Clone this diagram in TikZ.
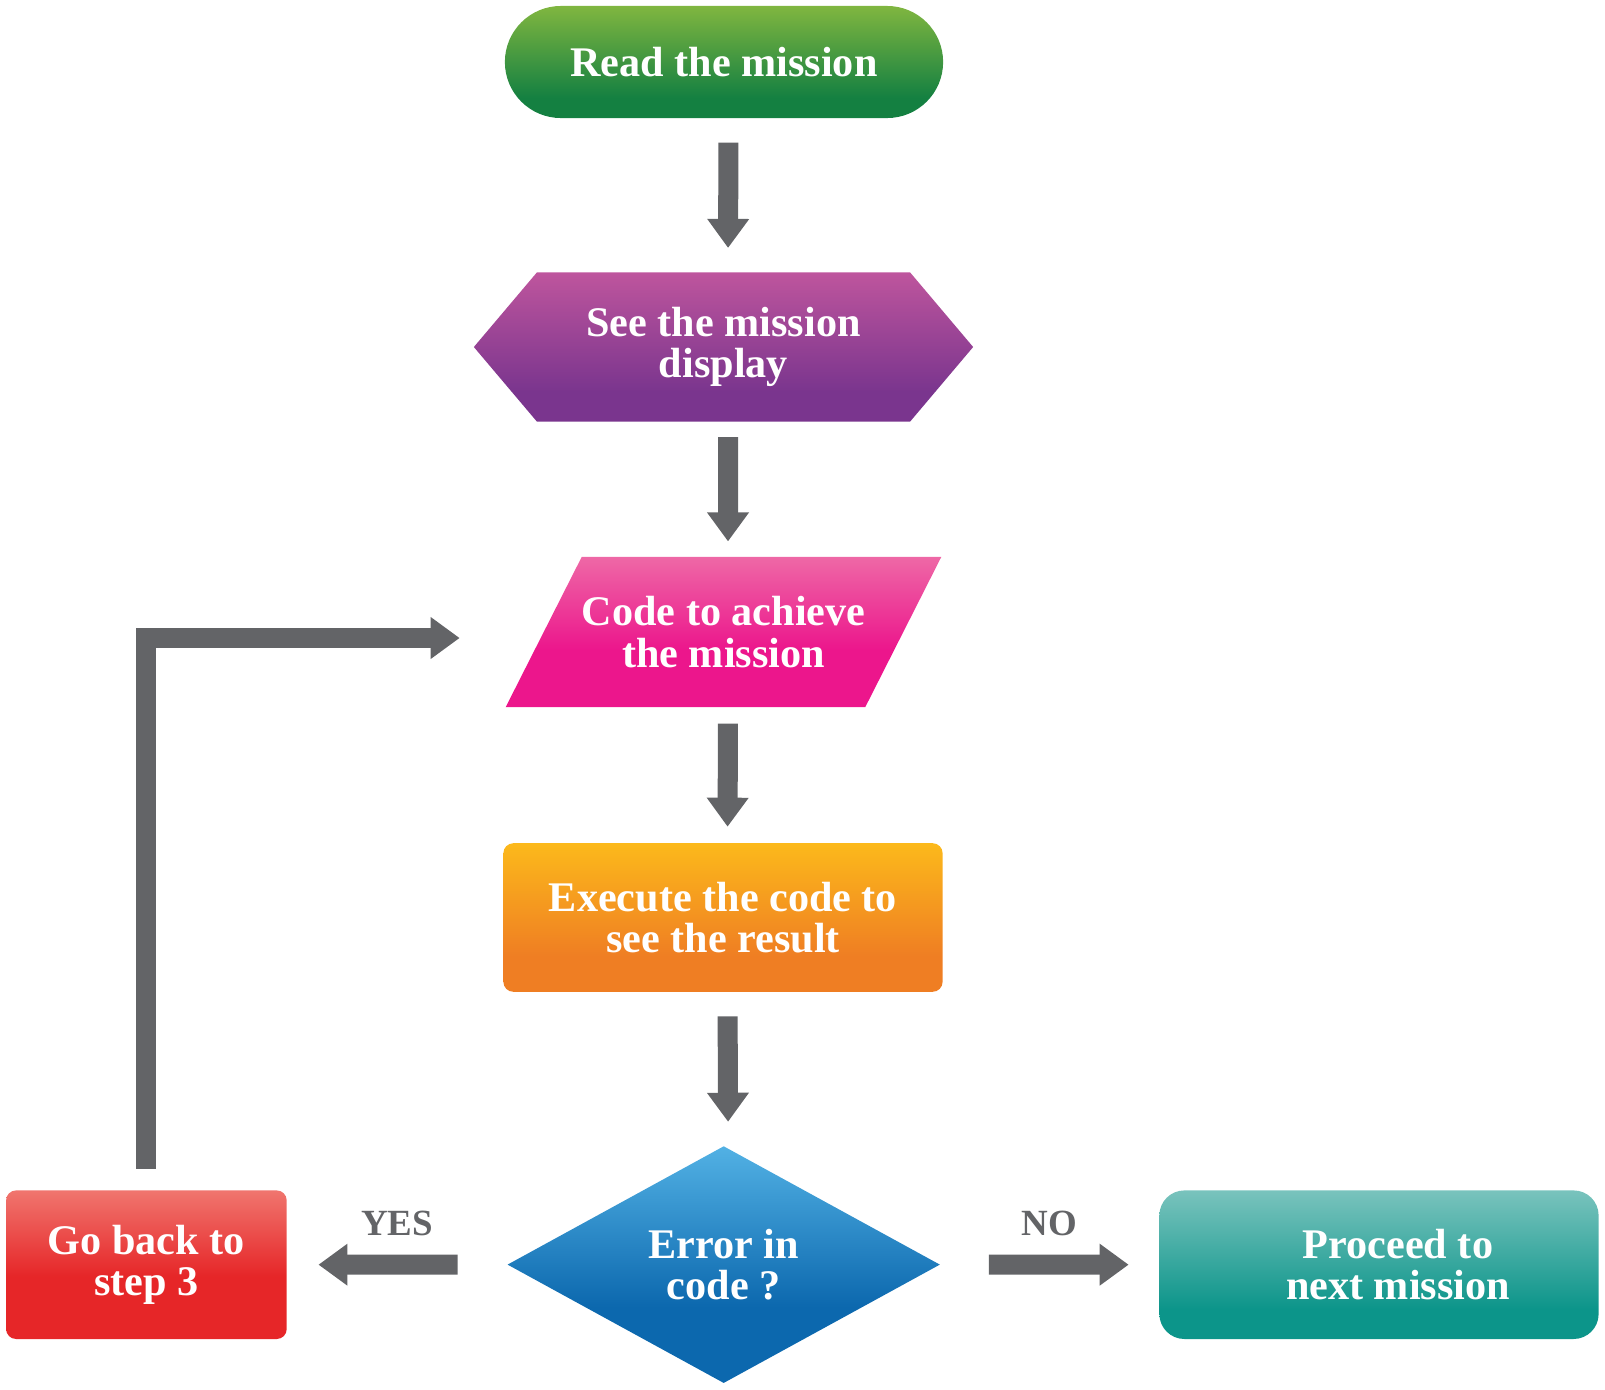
\documentclass[tikz,border=0pt]{standalone}
\usepackage{fontspec}
\setmainfont{Liberation Serif}
\usetikzlibrary{arrows.meta, positioning, shapes.geometric, shapes.symbols}

\definecolor{arrowgray}{HTML}{636467}
\definecolor{greentop}{HTML}{80B640}
\definecolor{greenbot}{HTML}{148041}
\definecolor{purpletop}{HTML}{BE559D}
\definecolor{purplebot}{HTML}{7A358E}
\definecolor{pinktop}{HTML}{EE68A6}
\definecolor{pinkbot}{HTML}{EC168C}
\definecolor{orangetop}{HTML}{FCB91B}
\definecolor{orangebot}{HTML}{EF7E23}
\definecolor{bluetop}{HTML}{52B1E4}
\definecolor{bluebot}{HTML}{0C68AE}
\definecolor{redtop}{HTML}{F0756E}
\definecolor{redbot}{HTML}{E62628}
\definecolor{tealtop}{HTML}{79C3BD}
\definecolor{tealbot}{HTML}{0C958A}

% name, top colour, bottom colour, where the bottom colour starts
\newcommand{\flowshading}[4]{\pgfdeclareverticalshading{#1}{100bp}{color(0bp)=(#3); color(#4bp)=(#3); color(75bp)=(#2); color(100bp)=(#2)}}
\flowshading{greenshade}{greentop}{greenbot}{34}
\flowshading{purpleshade}{purpletop}{purplebot}{35}
\flowshading{pinkshade}{pinktop}{pinkbot}{44}
\flowshading{orangeshade}{orangetop}{orangebot}{37}
\flowshading{blueshade}{bluetop}{bluebot}{41}
\flowshading{redshade}{redtop}{redbot}{46}
\flowshading{tealshade}{tealtop}{tealbot}{35}

\begin{document}
\begin{tikzpicture}[
		x=0.01cm, y=-0.01cm,
		every node/.style={align=center, inner sep=0pt, outer sep=0pt, text=white, font=\bfseries\fontsize{12}{11.7}\selectfont},
		box/.style={rectangle, minimum width=4.39cm, minimum height=1.485cm, shade},
		flow arrow/.style={draw=arrowgray, line width=0.2cm, -{Triangle[length=0.29cm, width=0.4cm]}},
		answer/.style={text=arrowgray, font=\bfseries\fontsize{10.5}{10.5}\selectfont}
	]
	\useasboundingbox (0,0) rectangle (1605,1390);

	% steps
	\node[box, rounded corners=0.56cm, minimum width=4.38cm, minimum height=1.12cm, shading=greenshade] (read) at (724,62) {Read the mission};
	\node[signal, signal to=west and east, signal pointer angle=99.6, minimum width=4.99cm, minimum height=1.49cm, shade, shading=purpleshade] (see) at (723.5,347) {See the mission\\display};
	\node[trapezium, trapezium left angle=43, trapezium right angle=137, trapezium stretches body=true, minimum width=4.35cm, minimum height=1.5cm, shade, shading=pinkshade] (code) at (723.5,632) {Code to achieve\\the mission};
	\node[box, rounded corners=0.1cm, shading=orangeshade] (run) at (723,917.5) {Execute the code to\\see the result};
	\node[diamond, minimum width=4.32cm, minimum height=2.365cm, shade, shading=blueshade] (check) at (723.7,1264.6) {Error in\\code ?};
	\node[box, rounded corners=0.1cm, minimum width=2.805cm, shading=redshade] (back) at (146.4,1264.7) {Go back to\\step 3};
	\node[box, rounded corners=0.25cm, shading=tealshade] (next) at (1379,1264.7) {\hspace*{0.38cm}Proceed to\\\hspace*{0.38cm}next mission};

	% arrows
	\draw[flow arrow, shorten <=0.245cm, shorten >=0.245cm] ([xshift=0.045cm]read.south) -- ([xshift=0.045cm]see.north);
	\draw[flow arrow, shorten <=0.155cm, shorten >=0.155cm] ([xshift=0.045cm]see.south) -- ([xshift=0.045cm]code.north);
	\draw[flow arrow, shorten <=0.165cm, shorten >=0.165cm] ([xshift=0.045cm]code.south) -- ([xshift=0.045cm]run.north);
	\draw[flow arrow, shorten <=0.245cm, shorten >=0.245cm] ([xshift=0.045cm]run.south) -- ([xshift=0.045cm]check.north);
	\draw[flow arrow, shorten <=0.5cm, shorten >=0.317cm] (check.west) -- (back.east) node[answer, midway, above=0.285cm] {YES};
	\draw[flow arrow, shorten <=0.49cm, shorten >=0.307cm] (check.east) -- (next.west) node[answer, midway, above=0.285cm] {NO};
	\draw[flow arrow, shorten <=0.215cm, shorten >=0.84cm] (back.north) |- ([yshift=-0.06cm]code.west);
\end{tikzpicture}
\end{document}
